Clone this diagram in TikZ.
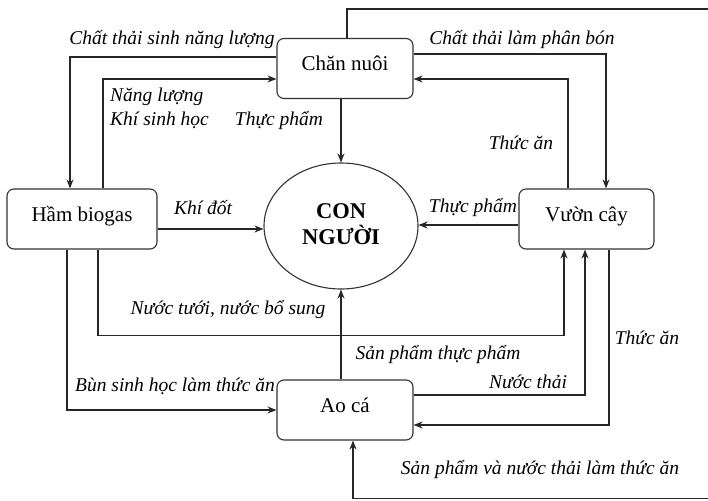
\documentclass[tikz,border=0pt]{standalone}
\usepackage{fontspec}
\setmainfont{Liberation Serif}
\usetikzlibrary{arrows.meta,shapes.geometric}

\tikzset{
  unit/.style={rounded corners=7pt, draw=black!80, line width=1.1pt,
    minimum width=136pt, minimum height=60pt, inner sep=0pt,
    text height=14pt, text depth=10pt,
    font=\fontsize{21}{24}\selectfont},
  people/.style={ellipse, draw=black!80, line width=1.1pt,
    minimum width=154pt, minimum height=126pt, inner sep=0pt,
    font=\fontsize{22.5}{27}\selectfont\bfseries},
  flow/.style={draw=black!85, line width=1.2pt,
    -{Stealth[length=9pt,width=7pt]}},
  tag/.style={inner sep=0pt, font=\fontsize{19.5}{24}\selectfont\itshape},
}

\begin{document}
\begin{tikzpicture}[x=1pt,y=-1pt]
\useasboundingbox (0,0) rectangle (708,500);
\clip (0,0) rectangle (708,500);
\fill[white] (0,0) rectangle (708,500);

% the five parts of the farm system
\node[unit] (cn) at (345,68.5) {Chăn nuôi};
\node[unit, minimum width=150pt] (hb) at (82,219) {Hầm biogas};
\node[unit, minimum width=135pt] (vc) at (586.5,219) {Vườn cây};
\node[unit] (ao) at (345,410) {Ao cá};
\node[people] (ng) at (341,226)
  {\raisebox{5pt}{\begin{tabular}{@{}c@{}}CON\\[-1pt]NGƯỜI\end{tabular}}};

% outer return path around the right edge
\coordinate (rt) at (716,9);
\coordinate (rb) at (716,498.8);

% flows
\draw[flow] ([yshift=11.5pt]cn.west) -| ([xshift=-12pt]hb.north);
\draw[flow] ([xshift=21pt]hb.north) |- ([yshift=-10.5pt]cn.west);
\draw[flow] (cn.south -| ng.north) -- (ng.north);
\draw[flow] ([yshift=14.5pt]cn.east) -| ([xshift=19.5pt]vc.north);
\draw[flow] ([xshift=-18.5pt]vc.north) |- ([yshift=-10.5pt]cn.east);
\draw[flow] ([xshift=2pt]cn.north) |- (rt) -- (rb) -| ([xshift=8pt]ao.south);
\draw[flow] ([yshift=-10pt]hb.east) -- ([yshift=-10pt]hb.east -| ng.west);
\draw[flow] ([yshift=-6pt]vc.west) -- ([yshift=-6pt]vc.west -| ng.east);
\draw[flow] ([xshift=16pt]hb.south) -- ++(0,86) -| ([xshift=-22.5pt]vc.south);
\draw[flow] ([xshift=-15pt]hb.south) |- (ao.west);
\draw[flow] (ao.north -| ng.south) -- (ng.south);
\draw[flow] ([yshift=15pt]ao.east) -| ([xshift=-1.5pt]vc.south);
\draw[flow] ([xshift=22.5pt]vc.south) |- ([yshift=-15pt]ao.east);

% flow labels
\node[tag] (l1) at (172,40) {Chất thải sinh năng lượng};
\node[tag, align=left, anchor=north west] (l2) at (110,88) {Năng lượng\\Khí sinh học};
\node[tag] (l3) at (279,121) {Thực phẩm};
\node[tag] (l4) at (522,40) {Chất thải làm phân bón};
\node[tag] (l5) at (521,143) {Thức ăn};
\node[tag] (l6) at (203,208) {Khí đốt};
\node[tag] (l7) at (473,208) {Thực phẩm};
\node[tag] (l8) at (228,310) {Nước tưới, nước bổ sung};
\node[tag] (l9) at (647,338) {Thức ăn};
\node[tag] (l10) at (438,355) {Sản phẩm thực phẩm};
\node[tag] (l11) at (528,382) {Nước thải};
\node[tag] (l12) at (175,386) {Bùn sinh học làm thức ăn};
\node[tag] (l13) at (540,470) {Sản phẩm và nước thải làm thức ăn};
\end{tikzpicture}
\end{document}
